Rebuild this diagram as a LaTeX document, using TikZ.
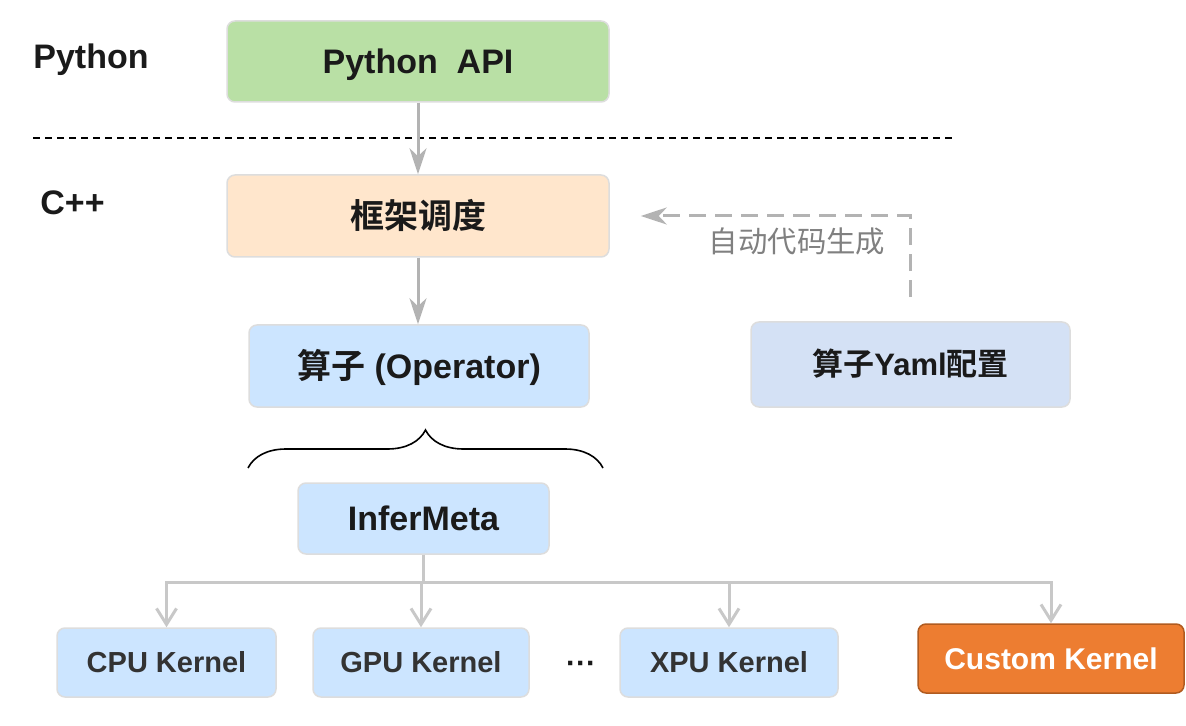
\documentclass[tikz,border=0pt]{standalone}
\usepackage{fontspec}
\setmainfont{Liberation Sans}
\newfontfamily\cjk{Noto Sans CJK SC}[BoldFont={Noto Sans CJK SC Bold}]
\usetikzlibrary{arrows.meta,decorations.pathreplacing}

\definecolor{pygreen}{HTML}{B9E0A5}
\definecolor{schedorange}{HTML}{FFE6CC}
\definecolor{opblue}{HTML}{CCE5FF}
\definecolor{yamlblue}{HTML}{D4E1F5}
\definecolor{customfill}{HTML}{ED7D31}
\definecolor{customline}{HTML}{B05B20}
\definecolor{boxline}{HTML}{DDDDDD}
\definecolor{arrowgray}{HTML}{B3B3B3}
\definecolor{treegray}{HTML}{C8C8C8}
\definecolor{textdark}{HTML}{1A1A1A}
\definecolor{kerneltext}{HTML}{333333}
\definecolor{labelgray}{HTML}{808080}

\tikzset{
	box/.style={draw=boxline, line width=0.75pt, rounded corners=4pt, align=center, text=textdark,
		text height=12.2pt, text depth=0pt, font=\bfseries\fontsize{17}{20}\selectfont},
	kernelbox/.style={box, fill=opblue, minimum height=34.5pt, text=kerneltext, text height=10.4pt,
		font=\bfseries\fontsize{14.5}{17}\selectfont},
	flow/.style={draw=arrowgray, line width=1.5pt, -{Stealth[length=13pt,width=8.5pt,inset=4pt]}},
	gen/.style={draw=arrowgray, line width=1.5pt, dash pattern=on 8.5pt off 4.5pt,
		-{Stealth[length=13pt,width=8.5pt,inset=4pt]}},
	tree/.style={draw=treegray, line width=1.5pt},
	treearr/.style={tree, -{Straight Barb[length=8pt,width=10pt]}},
	layer/.style={font=\bfseries\fontsize{17}{20}\selectfont, text=textdark, anchor=base west, inner sep=0pt}
}

\begin{document}
\begin{tikzpicture}[x=0.5pt, y=-0.5pt]
			%%%%% START %%%%%
			\useasboundingbox (0, 0) rectangle (1186, 726);
			
			\node[layer] (lpy) at (33, 69) {Python};
			\node[layer] (lcpp) at (40, 215) {C++};
			\draw[line width=1pt, dash pattern=on 3.5pt off 2.5pt] (33, 138) -- (952, 138);
			
			\node[box, fill=pygreen, minimum width=191pt, minimum height=40.5pt] (pyapi) at (418, 61.5) {Python\ \ API};
			\node[box, fill=schedorange, minimum width=191pt, minimum height=41pt] (sched) at (418, 216) {\cjk 框架调度};
			\node[box, fill=opblue, minimum width=170pt, minimum height=41pt] (op) at (419, 366) {{\cjk 算子} (Operator)};
			\node[box, fill=yamlblue, minimum width=159.5pt, minimum height=42.5pt, text height=11.1pt,
				font=\bfseries\fontsize{15.5}{18}\selectfont] (yaml) at (910.5, 364.5) {{\cjk 算子}Yaml{\cjk 配置}};
			\node[box, fill=opblue, minimum width=125.5pt, minimum height=35.5pt] (infer) at (423.5, 518.5) {InferMeta};
			
			\draw[flow] (pyapi) -- (sched);
			\draw[flow] (sched.south) -- (sched.south |- op.north);
			\draw[gen] ([yshift=12pt]yaml.north) |- ([xshift=15.5pt]sched.east);
			\node[font=\cjk\fontsize{14.7}{17}\selectfont, text=labelgray] (genlabel) at (797, 241) {自动代码生成};
			
			\draw[decorate, decoration={brace, amplitude=19pt}, line width=0.8pt] (248, 468) -- (603, 468);
			
			\node[kernelbox, minimum width=109.5pt] (cpu) at (166.5, 662.5) {CPU Kernel};
			\node[kernelbox, minimum width=108pt] (gpu) at (421, 662.5) {GPU Kernel};
			\node[font=\bfseries\fontsize{15}{18}\selectfont, text=textdark] (dots) at (581, 667) {···};
			\node[kernelbox, minimum width=109pt] (xpu) at (729, 662.5) {XPU Kernel};
			\node[box, fill=customfill, draw=customline, minimum width=133pt, minimum height=34.5pt, text=white,
				text height=10.8pt, font=\bfseries\fontsize{15}{18}\selectfont] (custom) at (1051, 658.5) {Custom Kernel};
			
			\draw[tree] (infer.south) -- ++(0, 28) coordinate (bus);
			\draw[treearr] (bus) -| (cpu.north);
			\draw[treearr] (bus) -| (gpu.north);
			\draw[treearr] (bus) -| (xpu.north);
			\draw[treearr] (bus) -| (custom.north);
			%%%%% END %%%%%
\end{tikzpicture}
\end{document}
